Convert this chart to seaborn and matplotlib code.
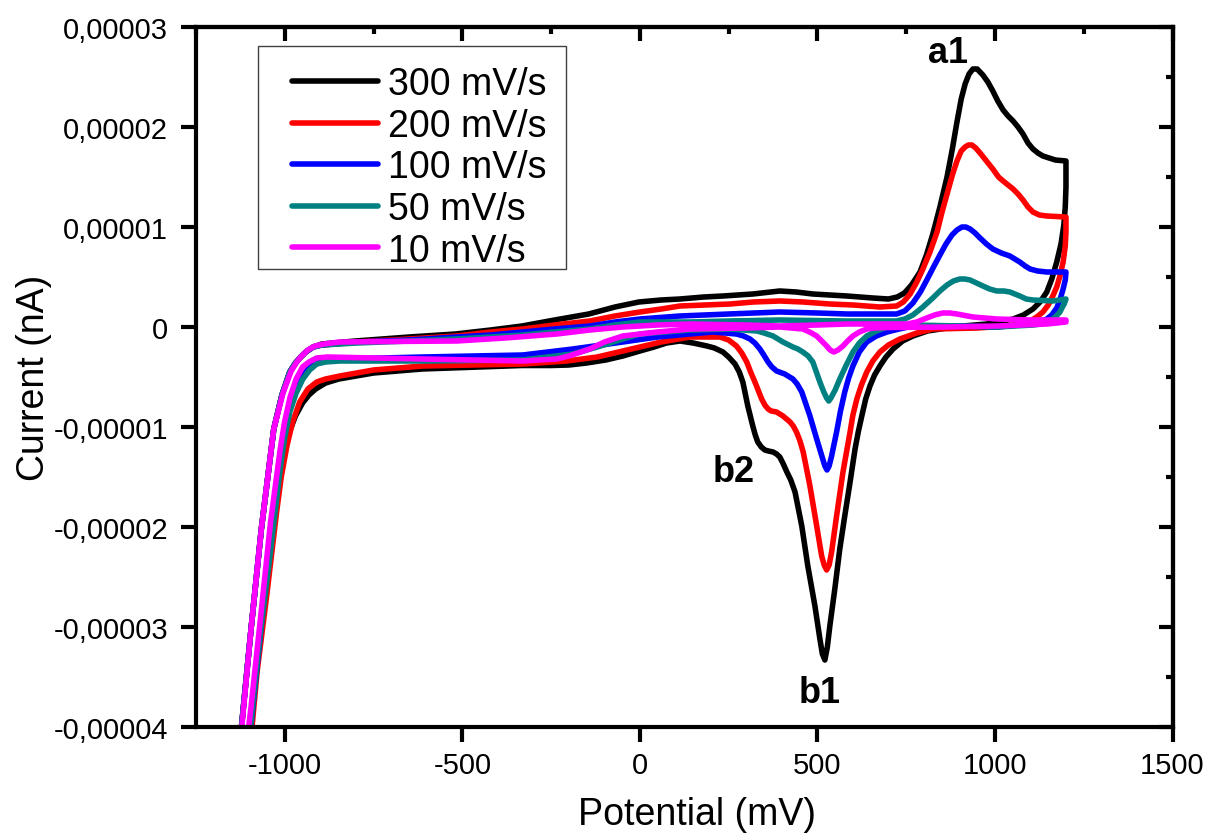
import numpy as np
import pandas as pd
import matplotlib
matplotlib.use("Agg")
import matplotlib.pyplot as plt
import seaborn as sns
from matplotlib.ticker import FixedLocator, MultipleLocator, FuncFormatter
from matplotlib.lines import Line2D
from matplotlib.patches import Rectangle

# ---------------- data (potential in mV, current in units of 1e-5) ----------------
rates = ["300 mV/s", "200 mV/s", "100 mV/s", "50 mV/s", "10 mV/s"]
colors = ["#000000", "#ff0000", "#0000ff", "#008080", "#ff00ff"]
I_UNIT = 1e-5

cv_300_fwd = [(-1130, -4.30), (-1122, -4.00), (-1095, -3.02), (-1066, -2.02), (-1031, -1.02), (-1008, -0.68),
              (-986, -0.45), (-970, -0.36), (-955, -0.30), (-941, -0.25), (-920, -0.20), (-896, -0.17),
              (-801, -0.14), (-650, -0.10), (-519, -0.07), (-420, -0.03), (-332, 0.01), (-240, 0.07),
              (-144, 0.13), (-70, 0.20), (-3, 0.25), (60, 0.27), (113, 0.28), (180, 0.30), (234, 0.31),
              (318, 0.33), (394, 0.36), (440, 0.35), (487, 0.33), (583, 0.31), (656, 0.29), (700, 0.28),
              (725, 0.30), (745, 0.34), (765, 0.42), (789, 0.55), (807, 0.72), (825, 0.93), (845, 1.20),
              (865, 1.50), (880, 1.78), (893, 2.05), (905, 2.28), (916, 2.43), (927, 2.53), (938, 2.58),
              (950, 2.58), (966, 2.52), (980, 2.45), (994, 2.36), (1008, 2.26), (1023, 2.17), (1037, 2.11),
              (1051, 2.06), (1065, 2.00), (1079, 1.93), (1093, 1.84), (1107, 1.78), (1121, 1.74), (1135, 1.71),
              (1170, 1.67), (1200, 1.66)]
cv_300_rev = [(1200, 1.40), (1198, 1.20), (1194, 1.02), (1186, 0.83), (1174, 0.65), (1160, 0.48), (1146, 0.35),
              (1127, 0.25), (1107, 0.18), (1080, 0.12), (1051, 0.08), (1010, 0.05), (977, 0.03), (910, 0.01),
              (865, -0.01), (810, -0.04), (769, -0.09), (740, -0.14), (713, -0.22), (693, -0.30), (676, -0.39),
              (661, -0.48), (648, -0.59), (636, -0.72), (625, -0.89), (615, -1.05), (606, -1.22), (592, -1.55),
              (577, -1.89), (563, -2.22), (549, -2.62), (535, -2.99), (528, -3.20), (521, -3.33), (514, -3.27),
              (507, -3.12), (493, -2.79), (473, -2.39), (456, -1.99), (437, -1.65), (425, -1.53), (414, -1.45),
              (404, -1.37), (394, -1.30), (385, -1.27), (375, -1.25), (362, -1.24), (352, -1.23), (342, -1.20),
              (332, -1.15), (325, -1.08), (318, -0.99), (311, -0.89), (304, -0.79), (297, -0.67), (290, -0.55),
              (280, -0.45), (268, -0.37), (250, -0.30), (234, -0.25), (210, -0.21), (189, -0.19), (150, -0.16),
              (113, -0.14), (75, -0.16), (40, -0.20), (0, -0.24), (-48, -0.29), (-96, -0.33), (-150, -0.36),
              (-200, -0.38), (-250, -0.385), (-332, -0.385), (-450, -0.40), (-614, -0.42), (-750, -0.46),
              (-848, -0.52), (-885, -0.56), (-913, -0.62), (-932, -0.68), (-950, -0.76), (-970, -0.89),
              (-990, -1.08), (-1010, -1.35), (-1025, -1.65), (-1040, -2.02), (-1068, -3.02), (-1095, -4.00),
              (-1103, -4.30)]

cv_200_fwd = [(-1130, -4.30), (-1122, -4.00), (-1095, -3.02), (-1066, -2.02), (-1031, -1.02), (-1008, -0.68),
              (-986, -0.45), (-970, -0.36), (-955, -0.30), (-941, -0.25), (-920, -0.20), (-896, -0.18),
              (-797, -0.15), (-650, -0.12), (-516, -0.09), (-420, -0.05), (-330, -0.02), (-240, 0.02),
              (-141, 0.06), (-70, 0.11), (0, 0.15), (60, 0.18), (113, 0.21), (180, 0.22), (254, 0.23),
              (320, 0.25), (394, 0.26), (460, 0.25), (535, 0.23), (600, 0.22), (676, 0.20), (723, 0.21),
              (742, 0.25), (761, 0.33), (780, 0.45), (797, 0.58), (817, 0.75), (837, 0.95), (851, 1.15),
              (865, 1.33), (880, 1.52), (893, 1.66), (905, 1.76), (916, 1.80), (925, 1.82), (935, 1.82),
              (946, 1.79), (958, 1.74), (976, 1.66), (994, 1.58), (1010, 1.50), (1023, 1.46), (1037, 1.42),
              (1051, 1.38), (1065, 1.33), (1079, 1.27), (1093, 1.20), (1107, 1.15), (1125, 1.12), (1146, 1.11),
              (1200, 1.10)]
cv_200_rev = [(1200, 0.95), (1198, 0.81), (1192, 0.65), (1183, 0.51), (1174, 0.40), (1163, 0.31), (1150, 0.22),
              (1135, 0.15), (1118, 0.10), (1099, 0.06), (1070, 0.03), (1034, 0.01), (950, -0.01), (825, -0.02),
              (780, -0.06), (732, -0.12), (700, -0.18), (676, -0.25), (656, -0.34), (639, -0.45), (624, -0.58),
              (611, -0.72), (600, -0.88), (592, -1.05), (572, -1.45), (554, -1.89), (540, -2.25), (533, -2.38),
              (526, -2.43), (519, -2.38), (512, -2.29), (498, -1.99), (479, -1.59), (460, -1.25), (450, -1.13),
              (441, -1.05), (432, -0.99), (423, -0.95), (403, -0.89), (385, -0.85), (370, -0.84), (361, -0.82),
              (352, -0.78), (343, -0.72), (334, -0.64), (324, -0.55), (312, -0.45), (301, -0.35), (287, -0.26),
              (272, -0.19), (250, -0.13), (225, -0.10), (141, -0.10), (60, -0.15), (-48, -0.24), (-120, -0.30),
              (-206, -0.34), (-330, -0.37), (-611, -0.39), (-750, -0.43), (-845, -0.49), (-885, -0.52),
              (-910, -0.55), (-935, -0.62), (-958, -0.75), (-978, -0.95), (-994, -1.19), (-1010, -1.50),
              (-1023, -1.85), (-1051, -2.69), (-1078, -3.45), (-1100, -4.30)]

cv_100_fwd = [(-1130, -4.30), (-1122, -4.00), (-1095, -3.02), (-1066, -2.02), (-1031, -1.02), (-1008, -0.68),
              (-986, -0.45), (-970, -0.36), (-955, -0.30), (-941, -0.25), (-920, -0.20), (-896, -0.18),
              (-797, -0.15), (-650, -0.13), (-516, -0.10), (-420, -0.08), (-330, -0.05), (-240, -0.02),
              (-141, 0.01), (-70, 0.05), (0, 0.08), (113, 0.11), (250, 0.13), (394, 0.15), (500, 0.14),
              (583, 0.13), (723, 0.13), (746, 0.16), (769, 0.24), (790, 0.35), (808, 0.47), (827, 0.60),
              (845, 0.72), (862, 0.83), (879, 0.92), (893, 0.97), (907, 1.00), (918, 1.00), (930, 0.98),
              (944, 0.94), (958, 0.89), (976, 0.83), (994, 0.78), (1018, 0.74), (1042, 0.71), (1056, 0.68),
              (1070, 0.65), (1085, 0.61), (1099, 0.58), (1120, 0.56), (1146, 0.55), (1200, 0.55)]
cv_100_rev = [(1198, 0.47), (1192, 0.38), (1183, 0.27), (1174, 0.19), (1160, 0.12), (1146, 0.08), (1120, 0.05),
              (1099, 0.03), (1005, 0.00), (900, 0.01), (769, 0.01), (730, -0.02), (696, -0.05), (666, -0.09),
              (639, -0.15), (618, -0.25), (600, -0.39), (588, -0.51), (577, -0.65), (565, -0.84), (554, -1.05),
              (540, -1.29), (533, -1.39), (527, -1.43), (521, -1.39), (515, -1.32), (498, -1.12), (479, -0.89),
              (456, -0.65), (443, -0.57), (431, -0.52), (408, -0.47), (385, -0.44), (372, -0.40), (361, -0.35),
              (349, -0.28), (338, -0.22), (324, -0.16), (310, -0.12), (292, -0.09), (272, -0.07), (206, -0.05),
              (141, -0.07), (50, -0.10), (-48, -0.15), (-189, -0.22), (-330, -0.28), (-611, -0.30),
              (-845, -0.32), (-885, -0.33), (-910, -0.35), (-930, -0.40), (-949, -0.49), (-968, -0.62),
              (-986, -0.79), (-1000, -1.02), (-1014, -1.35), (-1042, -2.19), (-1068, -3.05), (-1095, -3.98),
              (-1103, -4.30)]

cv_50_fwd = [(-1130, -4.30), (-1122, -4.00), (-1095, -3.02), (-1066, -2.02), (-1031, -1.02), (-1008, -0.68),
             (-986, -0.45), (-970, -0.36), (-955, -0.30), (-941, -0.25), (-920, -0.20), (-896, -0.18),
             (-797, -0.16), (-650, -0.14), (-516, -0.12), (-420, -0.10), (-330, -0.08), (-240, -0.05),
             (-141, -0.02), (-70, 0.02), (0, 0.05), (141, 0.05), (250, 0.06), (394, 0.07), (583, 0.06),
             (723, 0.06), (746, 0.08), (769, 0.12), (797, 0.20), (825, 0.29), (845, 0.36), (865, 0.42),
             (883, 0.46), (901, 0.48), (915, 0.48), (930, 0.47), (948, 0.44), (966, 0.41), (985, 0.38),
             (1005, 0.36), (1025, 0.36), (1042, 0.35), (1056, 0.33), (1070, 0.31), (1088, 0.28), (1107, 0.27),
             (1163, 0.26), (1200, 0.28)]
cv_50_rev = [(1195, 0.23), (1190, 0.20), (1183, 0.15), (1170, 0.10), (1155, 0.06), (1130, 0.03), (1107, 0.02),
             (1005, 0.00), (900, 0.01), (769, 0.02), (730, 0.01), (696, 0.00), (666, -0.04), (639, -0.09),
             (618, -0.16), (600, -0.25), (580, -0.39), (563, -0.52), (550, -0.63), (538, -0.71), (532, -0.74),
             (526, -0.71), (518, -0.65), (507, -0.55), (497, -0.45), (487, -0.35), (474, -0.29), (459, -0.25),
             (445, -0.22), (431, -0.20), (403, -0.15), (375, -0.09), (350, -0.06), (330, -0.04), (254, -0.02),
             (141, -0.03), (0, -0.07), (-48, -0.12), (-120, -0.20), (-189, -0.27), (-330, -0.33), (-611, -0.34),
             (-845, -0.34), (-885, -0.35), (-910, -0.37), (-930, -0.43), (-949, -0.52), (-968, -0.66),
             (-986, -0.85), (-1000, -1.10), (-1014, -1.45), (-1042, -2.30), (-1070, -3.10), (-1092, -3.85),
             (-1105, -4.30)]

cv_10_fwd = [(-1135, -4.30), (-1121, -4.00), (-1095, -3.02), (-1066, -2.02), (-1031, -1.02), (-1005, -0.66),
             (-982, -0.44), (-966, -0.35), (-955, -0.30), (-935, -0.23), (-915, -0.19), (-890, -0.17),
             (-845, -0.15), (-700, -0.145), (-516, -0.14), (-380, -0.11), (-234, -0.07), (-141, -0.03),
             (-48, 0.00), (50, 0.02), (141, 0.03), (300, 0.02), (394, 0.01), (500, 0.02), (583, 0.03),
             (752, 0.03), (780, 0.05), (808, 0.09), (830, 0.12), (853, 0.14), (873, 0.14), (893, 0.13),
             (938, 0.10), (1005, 0.08), (1099, 0.07), (1200, 0.07)]
cv_10_rev = [(1200, 0.05), (1146, 0.03), (1005, 0.01), (865, 0.00), (700, -0.005), (660, -0.01), (639, -0.02),
             (618, -0.05), (600, -0.09), (585, -0.14), (572, -0.19), (558, -0.23), (546, -0.25), (536, -0.23),
             (526, -0.19), (512, -0.14), (498, -0.09), (478, -0.05), (459, -0.02), (394, 0.00), (300, -0.01),
             (141, -0.02), (50, -0.05), (-48, -0.09), (-100, -0.15), (-141, -0.22), (-200, -0.29),
             (-234, -0.32), (-330, -0.34), (-611, -0.32), (-880, -0.30), (-910, -0.31), (-932, -0.35),
             (-950, -0.40), (-968, -0.52), (-985, -0.70), (-1000, -0.94), (-1012, -1.20), (-1040, -1.95),
             (-1068, -2.90), (-1095, -3.80), (-1115, -4.40)]

curves = {
    "300 mV/s": cv_300_fwd + cv_300_rev,
    "200 mV/s": cv_200_fwd + cv_200_rev,
    "100 mV/s": cv_100_fwd + cv_100_rev,
    "50 mV/s": cv_50_fwd + cv_50_rev,
    "10 mV/s": cv_10_fwd + cv_10_rev,
}

x_ticks = [-1000, -500, 0, 500, 1000, 1500]
y_ticks = [-4, -3, -2, -1, 0, 1, 2, 3]
labels_peaks = [("a1", 868, 2.65), ("b2", 265, -1.54), ("b1", 507, -3.75)]

# ---------------- build table ----------------
rows = []
for rate in rates:
    for k, (e, i) in enumerate(curves[rate]):
        rows.append({"rate": rate, "order": k, "E": e, "I": i * I_UNIT})
df = pd.DataFrame(rows)

# ---------------- style ----------------
sns.set_style("ticks")
plt.rcParams["font.family"] = ["Liberation Sans", "DejaVu Sans"]
plt.rcParams["axes.unicode_minus"] = False
plt.rcParams["text.color"] = "black"
plt.rcParams["axes.labelcolor"] = "black"

W, H = 1208, 837
fig = plt.figure(figsize=(W / 100, H / 100), dpi=100)
x0, x1, y0, y1 = 196, 1172.5, 28, 728
ax = fig.add_axes([x0 / W, 1 - y1 / H, (x1 - x0) / W, (y1 - y0) / H])

LW = 4.0
sns.lineplot(data=df, x="E", y="I", hue="rate", hue_order=rates, palette=colors,
             sort=False, estimator=None, linewidth=LW, legend=False, ax=ax)
for ln in ax.get_lines():
    ln.set_solid_joinstyle("round")
    ln.set_solid_capstyle("round")

ax.set_xlim(-1250, 1500)
ax.set_ylim(-4e-5, 3e-5)

ax.xaxis.set_major_locator(FixedLocator(x_ticks))
ax.yaxis.set_major_locator(FixedLocator([v * I_UNIT for v in y_ticks]))


def yfmt(v, pos):
    if abs(v) < 1e-12:
        return "0"
    return f"{v:.5f}".replace(".", ",")


ax.yaxis.set_major_formatter(FuncFormatter(yfmt))
ax.xaxis.set_major_formatter(FuncFormatter(lambda v, p: f"{v:.0f}"))
ax.tick_params(axis="both", which="major", direction="out", length=11, width=3,
               color="black", labelsize=21, labelcolor="black", top=False, right=False)
ax.tick_params(axis="y", pad=9)
ax.tick_params(axis="x", pad=6)
ax.minorticks_off()
for sp in ax.spines.values():
    sp.set_linewidth(3)
    sp.set_color("black")

# top / right inward ticks with minors
secx = ax.secondary_xaxis("top")
secx.xaxis.set_major_locator(FixedLocator(x_ticks))
secx.xaxis.set_minor_locator(MultipleLocator(250))
secx.tick_params(which="major", direction="in", length=10, width=3, labeltop=False, color="black")
secx.tick_params(which="minor", direction="in", length=5, width=3, color="black")
secx.spines["top"].set_linewidth(3)
secy = ax.secondary_yaxis("right")
secy.yaxis.set_major_locator(FixedLocator([v * I_UNIT for v in y_ticks]))
secy.yaxis.set_minor_locator(MultipleLocator(0.5 * I_UNIT))
secy.tick_params(which="major", direction="in", length=10, width=3, labelright=False, color="black")
secy.tick_params(which="minor", direction="in", length=5, width=3, color="black")
secy.spines["right"].set_linewidth(3)

ax.set_xlabel("Potential (mV)", fontsize=27, color="black")
ax.xaxis.set_label_coords(0.513, -0.098)
ax.set_ylabel("Current (nA)", fontsize=27, color="black")
ax.yaxis.set_label_coords(-0.1475, 0.5)

for txt, ex, iy in labels_peaks:
    ax.text(ex, iy * I_UNIT, txt, fontsize=26, fontweight="bold", ha="center", va="baseline", color="black")

# legend
handles = [Line2D([], [], color=c, lw=LW, solid_capstyle="round") for c in colors]
leg = ax.legend(handles, rates, loc="upper left", bbox_to_anchor=(292 / W, 1 - 67 / H),
                bbox_transform=fig.transFigure, frameon=False, fontsize=27, handlelength=2.3,
                handletextpad=0.27, labelspacing=0.15, borderpad=0, borderaxespad=0)
for t in leg.get_texts():
    t.set_color("black")
fig.add_artist(Rectangle((258 / W, 1 - 270 / H), 308 / W, 223 / H, transform=fig.transFigure,
                         fill=False, edgecolor="#404040", lw=1.0))

fig.savefig("out.png", dpi=100)
